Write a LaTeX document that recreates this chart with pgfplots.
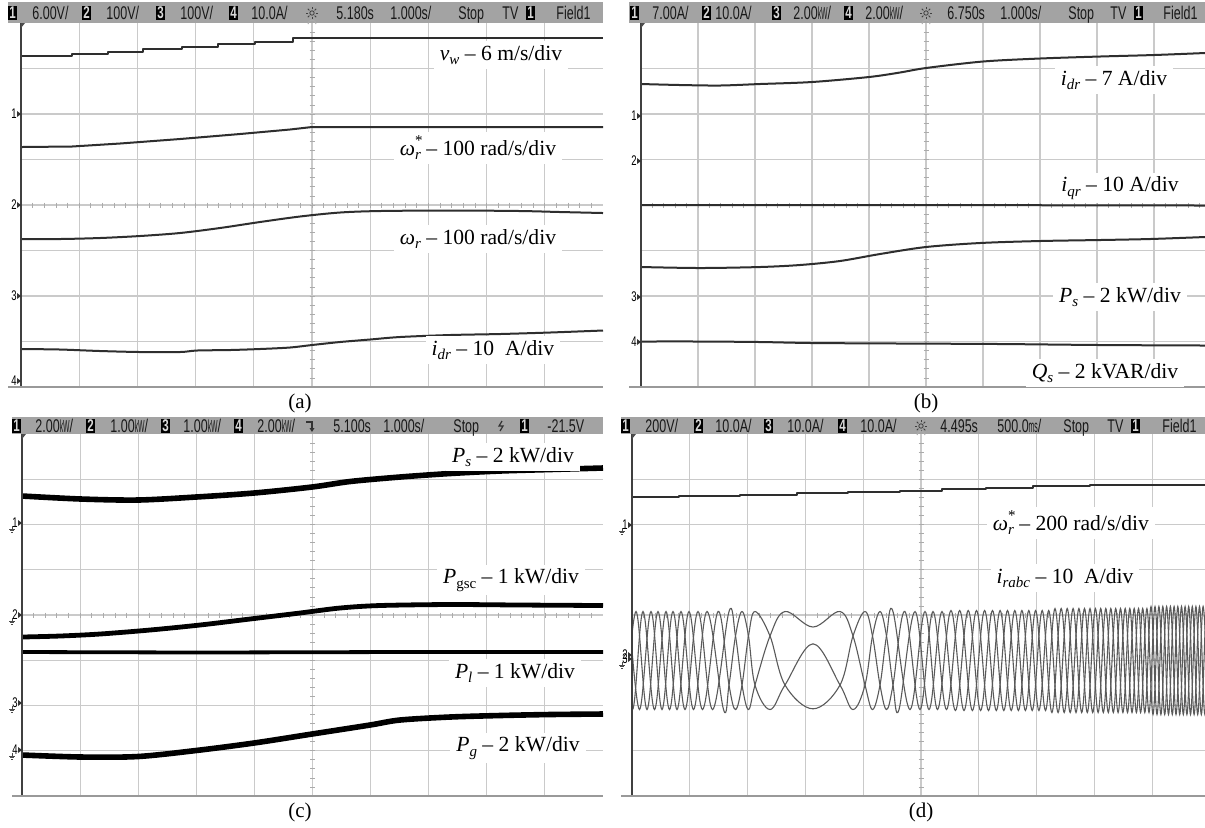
\documentclass[border=0pt]{standalone}
\usepackage{fontspec}
\setmainfont{Liberation Serif}
\newfontfamily\oscfont[FakeStretch=0.68]{Liberation Sans}
\usepackage{pgfplots}
\pgfplotsset{compat=1.18}

\definecolor{hdr}{HTML}{A3A3A3}
\definecolor{gridc}{HTML}{CACACA}
\definecolor{tickc}{HTML}{ABABAB}
\definecolor{trc}{HTML}{2E2E2E}
\definecolor{phc}{HTML}{5A5A5A}

\newcommand\hfont{\oscfont\fontsize{9.2}{9.2}\selectfont}
\newcommand\lab{\fontsize{10.8}{12}\selectfont}
\newcommand\sub[1]{\raisebox{-0.45ex}{\fontsize{7.5}{8}\selectfont\itshape #1}}
\newcommand\supsub[2]{\makebox[0pt][l]{\raisebox{0.95ex}{\fontsize{7.5}{8}\selectfont #1}}\raisebox{-0.45ex}{\fontsize{7.5}{8}\selectfont\itshape #2}}
\newcommand\kw{\scalebox{0.55}[0.95]{kW}}
\newcommand\ms{\scalebox{0.55}[0.95]{ms}}

% header pieces (pixel coordinates)
\newcommand\chb[3]{\fill[black] (#1,#2-7) rectangle ++(9,14);
  \node[text=black!15, font=\oscfont\fontsize{8.5}{8.5}\selectfont\bfseries, inner sep=0] at (#1+4.5,#2) {#3};}
\newcommand\htx[3]{\node[anchor=base west, inner sep=0, text=black!90, font=\hfont] at (#1,#2+6.3) {#3};}
\newcommand\sun[2]{\draw[black!75, line width=0.4pt] (#1,#2) circle (2.2);
  \foreach \a in {0,45,...,315} \draw[black!75, line width=0.4pt] (#1,#2) ++(\a:3.6) -- ++(\a:2.4);}
\newcommand\chm[3]{\node[anchor=east, inner sep=0, font=\oscfont\fontsize{7}{7}\selectfont] at (#1-4,#2) {#3};
  \fill[black!80] (#1-4,#2-3) -- (#1,#2) -- (#1-4,#2+3) -- cycle;}
\newcommand\gnd[2]{\draw[black!70, line width=0.35pt] (#1,#2) -- (#1,#2+3) (#1-3,#2+3) -- (#1+3,#2+3) (#1-2,#2+4.5) -- (#1+2,#2+4.5) (#1-1,#2+6) -- (#1+1,#2+6);}

% centre-line subdivision ticks: xc, y0, dy, yc, x0, dx
\newcommand\ctick[6]{%
  \pgfplotsinvokeforeach{1,...,39}{\draw[tickc, line width=0.4pt] ({#1-2.5},{#2+#3*##1}) -- ({#1+2.5},{#2+#3*##1});}
  \pgfplotsinvokeforeach{1,...,49}{\draw[tickc, line width=0.4pt] ({#5+#6*##1},{#4-2.5}) -- ({#5+#6*##1},{#4+2.5});}}

\tikzset{lbl/.style={fill=white, inner xsep=3pt, inner ysep=2pt, font=\lab}}
\pgfplotsset{
  osc/.style={
    scale only axis, y dir=reverse, anchor=north west,
    axis line style={draw=none}, major tick length=0pt,
    xticklabels={}, yticklabels={},
    grid=major, major grid style={gridc, line width=0.55pt},
    clip mode=individual,
  },
  tr/.style={trc, line width=1pt, line join=round},
  thick trace/.style={black, line width=2.8pt, line join=round},
  ph/.style={phc, line width=0.55pt, smooth, tension=0.6},
}

\begin{document}
\begin{tikzpicture}
\path[use as bounding box, fill=white] (0,0) rectangle (602.5pt,-413.5pt);

% ---------------- (a) ----------------
\begin{axis}[osc, at={(10.5pt,-11.5pt)}, width=291pt, height=182pt,
  xmin=21, xmax=603, ymin=23, ymax=387,
  xtick={79.2,137.4,195.6,253.8,312,370.2,428.4,486.6,544.8},
  ytick={68.5,114,159.5,205,250.5,296,341.5}]
\ctick{312}{23}{9.1}{205}{21}{11.64}
\addplot[tr, const plot] coordinates {(21,56)(72,54)(108,51.7)(143,49.3)(182,46.7)(218,44.3)(255,41.7)(293,37.5)(603,37.5)};
\addplot[tr] coordinates {(21,147)(72,146.5)(120,143.5)(180,139)(240,134)(290,129.5)(312,127)(603,127)};
\addplot[tr, smooth] coordinates {(21,239)(60,239)(100,238)(140,236)(180,233)(220,228)(260,222)(300,216.5)(340,212.5)(380,211)(450,210.5)(520,211)(560,212)(603,213)};
\addplot[tr, smooth] coordinates {(21,349)(60,349.5)(100,351)(140,352)(180,352)(197,350.5)(230,350)(260,349)(290,347.5)(312,345)(340,342)(370,339.5)(400,337)(450,335)(500,334)(550,332.5)(603,330.5)};
\draw[black!75, line width=0.8pt] (21,23) -- (21,387);
\draw[gray!80, line width=0.6pt] (8,387) -- (603,387);
\node[lbl] at (501,55) {\textit{v}\sub{w} – 6 m/s/div};
\node[lbl] at (478,148) {\textit{ω}\supsub{*}{r} – 100 rad/s/div};
\node[lbl] at (478,239) {\textit{ω}\sub{r} – 100 rad/s/div};
\node[lbl] at (493,350) {\textit{i}\sub{dr} – 10~ A/div};
\end{axis}

% ---------------- (b) ----------------
\begin{axis}[osc, at={(320.5pt,-11.5pt)}, width=282pt, height=182pt,
  xmin=641, xmax=1205, ymin=23, ymax=387,
  xtick={698,755,812,869,926,983,1040,1097,1154},
  ytick={68.5,114,159.5,205,250.5,296,341.5}]
\ctick{926}{23}{9.1}{205}{641}{11.4}
\addplot[tr, smooth] coordinates {(641,84)(680,85)(720,85.5)(760,84)(812,82)(869,77)(900,72.5)(926,68)(983,61.5)(1040,58.5)(1100,56.5)(1154,55)(1205,53)};
\addplot[tr] coordinates {(641,205)(900,205)(1205,205.5)};
\addplot[tr, smooth] coordinates {(641,267)(700,268)(760,267)(800,265)(840,261)(880,254)(926,247)(980,243)(1040,241)(1100,240)(1150,239)(1205,237)};
\addplot[tr, smooth] coordinates {(641,341.5)(700,341.5)(760,342)(812,343)(900,343.5)(1000,344)(1100,345)(1205,345.5)};
\draw[black!75, line width=0.8pt] (641,23) -- (641,387);
\draw[gray!80, line width=0.6pt] (629,387) -- (1205,387);
\node[lbl] at (1114,80) {\textit{i}\sub{dr} – 7 A/div};
\node[lbl] at (1120,188) {\textit{i}\sub{qr} – 10 A/div};
\node[lbl] at (1120,297) {\textit{P}\sub{s} – 2 kW/div};
\node[lbl] at (1105,373) {\textit{Q}\sub{s} – 2 kVAR/div};
\end{axis}

% ---------------- (c) ----------------
\begin{axis}[osc, at={(11pt,-217pt)}, width=290.5pt, height=181pt,
  xmin=22, xmax=603, ymin=434, ymax=796,
  xtick={80.1,138.2,196.3,254.4,312.5,370.6,428.7,486.8,544.9},
  ytick={479.25,524.5,569.75,615,660.25,705.5,750.75}]
\ctick{312.5}{434}{9.05}{615}{22}{11.62}
\addplot[thick trace, smooth] coordinates {(22,496)(81,499)(138,500)(196,497)(254,493)(312,487)(350,481.5)(400,477)(450,473.5)(500,471)(550,469.5)(603,468)};
\addplot[thick trace, smooth, line width=2.4pt] coordinates {(22,637)(60,636)(100,634)(150,630)(200,625)(250,619)(300,613)(340,608)(380,605.5)(450,604.5)(520,605)(603,605.5)};
\addplot[thick trace, line width=1.9pt] coordinates {(22,652)(200,652.5)(400,652)(603,652)};
\addplot[thick trace, smooth] coordinates {(22,755)(81,757)(138,756.5)(196,750.5)(254,743)(312,734)(370,725)(400,720)(450,717)(500,715.5)(550,714.5)(603,714)};
\draw[black!75, line width=0.8pt] (22,434) -- (22,796);
\draw[gray!80, line width=0.6pt] (12,796) -- (603,796);
\node[lbl] at (513,457) {\textit{P}\sub{s} – 2 kW/div};
\node[lbl] at (511,580) {\textit{P}\raisebox{-0.45ex}{\fontsize{7.5}{8}\selectfont gsc} – 1 kW/div};
\node[lbl] at (515,673) {\textit{P}\sub{l} – 1 kW/div};
\node[lbl] at (518,748) {\textit{P}\sub{g} – 2 kW/div};
\end{axis}

% ---------------- (d) ----------------
\begin{axis}[osc, at={(316pt,-217pt)}, width=286.5pt, height=181pt,
  xmin=632, xmax=1205, ymin=434, ymax=796,
  xtick={689.8,747.6,805.4,863.2,921,978.8,1036.6,1094.4,1152.2},
  ytick={479.25,524.5,569.75,615,660.25,705.5,750.75}]
\ctick{921}{434}{9.05}{615}{632}{11.56}
\addplot[tr, const plot] coordinates {(632,497.3)(679,496)(740,494.7)(797,493.3)(848,492)(900,490.5)(942,489)(986,487.8)(1033,486.3)(1090,485)(1205,485)};
% phase 1
\addplot[ph] coordinates {(629,611.5)(639.5,709.5)(651,611.5)(662,709.5)(673,611.5)(685,709.5)(698,611.5)(712.5,709.5)(729,611.5)(735.5,636)(742,685)(748.5,709.5)(755,685)(770,636)(785,611.5)(813,627)(840,611.5)(853,636)(865,685)(872.5,709.5)(880,685)(886.5,636)(893,611.5)(910,709.5)(925,611.5)(937.5,709.5)(951,610.5)(964,710.5)(976.5,610.5)(988.5,710.5)(1000.1,610.5)(1011.2,710.5)(1021.9,610.5)(1032.2,710.5)(1042.2,610.5)(1051.9,712.5)(1061.2,608.5)(1070.2,712.5)(1078.9,608.5)(1087.3,712.5)(1095.4,608.5)(1103.3,712.5)(1110.8,608.5)(1118.1,712.5)(1125.2,608.5)(1132.0,712.5)(1138.5,608.5)(1144.8,712.5)(1151.0,606.5)(1157.0,714.5)(1162.8,606.5)(1168.5,714.5)(1174.1,606.5)(1179.7,714.5)(1185.1,606.5)(1190.5,714.5)(1195.9,606.5)(1201.3,714.5)(1206.7,606.5)(1212.1,714.5)};
% phase 2
\addplot[ph] coordinates {(625.5,709.5)(636,611.5)(647,709.5)(658,611.5)(669.5,709.5)(681,611.5)(693.5,709.5)(707,611.5)(723.5,709.5)(729,685)(735.5,636)(742,611.5)(748.5,636)(755,685)(770,709.5)(785,685)(813,643.8)(840,685)(853,709.5)(865,685)(872.5,636)(880,611.5)(886.5,636)(893,685)(899,709.5)(915,611.5)(929,709.5)(942,611.5)(955.4,710.5)(968.2,610.5)(980.6,710.5)(992.5,610.5)(1003.8,710.5)(1014.8,610.5)(1025.4,710.5)(1035.6,610.5)(1045.5,710.5)(1055.0,608.5)(1064.2,712.5)(1073.1,608.5)(1081.7,712.5)(1090.0,608.5)(1098.1,712.5)(1105.8,608.5)(1113.3,712.5)(1120.5,608.5)(1127.5,712.5)(1134.2,608.5)(1140.6,712.5)(1146.9,608.5)(1153.0,714.5)(1158.9,606.5)(1164.7,714.5)(1170.4,606.5)(1176.0,714.5)(1181.5,606.5)(1186.9,714.5)(1192.3,606.5)(1197.7,714.5)(1203.1,606.5)(1208.5,714.5)};
% phase 3
\addplot[ph] coordinates {(622,611.5)(632.5,709.5)(643,611.5)(654.5,709.5)(666,611.5)(677,709.5)(689,611.5)(702.5,709.5)(718,611.5)(729,685)(735.5,709.5)(742,685)(748.5,636)(755,611.5)(770,636)(785,685)(813,708.8)(840,685)(853,636)(865,611.5)(872.5,636)(880,685)(886.5,709.5)(893,685)(905,611.5)(920,709.5)(933,611.5)(946.5,709.5)(959.7,610.5)(972.4,710.5)(984.6,610.5)(996.3,710.5)(1007.5,610.5)(1018.4,710.5)(1028.8,610.5)(1038.9,710.5)(1048.7,610.5)(1058.1,712.5)(1067.2,608.5)(1076.0,712.5)(1084.5,608.5)(1092.7,712.5)(1100.7,608.5)(1108.3,712.5)(1115.7,608.5)(1122.9,712.5)(1129.8,608.5)(1136.4,712.5)(1142.7,608.5)(1149.0,712.5)(1155.0,606.5)(1160.9,714.5)(1166.6,606.5)(1172.3,714.5)(1177.8,606.5)(1183.3,714.5)(1188.7,606.5)(1194.1,714.5)(1199.5,606.5)(1204.9,714.5)(1210.3,606.5)};
\draw[black!75, line width=0.8pt] (632,434) -- (632,796);
\draw[gray!80, line width=0.6pt] (621,796) -- (1205,796);
\node[lbl] at (1071,523) {\textit{ω}\supsub{*}{r} – 200 rad/s/div};
\node[lbl] at (1065,578) {\textit{i}\sub{rabc} – 10~ A/div};
\end{axis}

% ---------------- headers, markers, captions ----------------
\begin{scope}[x=0.5pt,y=-0.5pt]
% (a)
\fill[hdr] (8,2) rectangle (603,23);
\chb{8}{13}{1}\htx{32}{13}{6.00V/}\chb{82}{13}{2}\htx{106}{13}{100V/}
\chb{156}{13}{3}\htx{180}{13}{100V/}\chb{229}{13}{4}\htx{251}{13}{10.0A/}
\sun{312}{13}\htx{336}{13}{5.180s}\htx{390}{13}{1.000s/}\htx{458}{13}{Stop}
\htx{502}{13}{TV}\chb{526}{13}{1}\htx{556}{13}{Field1}
\chm{21}{114}{1}\chm{21}{205}{2}\chm{21}{296}{3}\chm{21}{381}{4}
\fill[black!70] (21,23) -- (25,23) -- (21,28) -- cycle;
\draw[tickc, line width=0.5pt] (308,24) arc (180:360:4);
% (b)
\fill[hdr] (629,2) rectangle (1205,23);
\chb{630}{13}{1}\htx{652}{13}{7.00A/}\chb{702}{13}{2}\htx{715}{13}{10.0A/}
\chb{772}{13}{3}\htx{793}{13}{2.00\kw/}\chb{844}{13}{4}\htx{865}{13}{2.00\kw/}
\sun{926}{13}\htx{947}{13}{6.750s}\htx{1000}{13}{1.000s/}\htx{1068}{13}{Stop}
\htx{1110}{13}{TV}\chb{1134}{13}{1}\htx{1163}{13}{Field1}
\chm{641}{116}{1}\chm{641}{161}{2}\chm{641}{297}{3}\chm{641}{342}{4}
\fill[black!70] (641,23) -- (645,23) -- (641,28) -- cycle;
\draw[tickc, line width=0.5pt] (922,24) arc (180:360:4);
% (c)
\fill[hdr] (12,417) rectangle (603,434);
\chb{12}{426}{1}\htx{35}{426}{2.00\kw/}\chb{86}{426}{2}\htx{110}{426}{1.00\kw/}
\chb{161}{426}{3}\htx{183}{426}{1.00\kw/}\chb{234}{426}{4}\htx{257}{426}{2.00\kw/}
\draw[black!80, line width=0.6pt] (306,422) -- (312,422) -- (312,431);
\fill[black!80] (309.5,428) -- (314.5,428) -- (312,432) -- cycle;
\htx{333}{426}{5.100s}\htx{383}{426}{1.000s/}\htx{453}{426}{Stop}
\draw[black!80, line width=0.6pt] (502,421) -- (499,426) -- (503,426) -- (500,431);
\chb{520}{426}{1}\htx{547}{426}{-21.5V}
\chm{22}{523}{1}\gnd{12}{526}\chm{22}{615}{2}\gnd{12}{618}
\chm{22}{703}{3}\gnd{12}{706}\chm{22}{750}{4}\gnd{12}{753}
\fill[black!70] (22,434) -- (26,434) -- (22,439) -- cycle;
% (d)
\fill[hdr] (621,417) rectangle (1205,434);
\chb{621}{426}{1}\htx{645}{426}{200V/}\chb{694}{426}{2}\htx{715}{426}{10.0A/}
\chb{764}{426}{3}\htx{787}{426}{10.0A/}\chb{838}{426}{4}\htx{860}{426}{10.0A/}
\sun{921}{426}\htx{940}{426}{4.495s}\htx{997}{426}{500.0\ms/}\htx{1063}{426}{Stop}
\htx{1107}{426}{TV}\chb{1131}{426}{1}\htx{1162}{426}{Field1}
\chm{632}{525}{1}\gnd{622}{528}\chm{632}{655}{2}\chm{632}{659}{3}\gnd{622}{662}
\fill[black!70] (632,434) -- (636,434) -- (632,439) -- cycle;
\draw[tickc, line width=0.5pt] (917,435) arc (180:360:4);
% captions
\node[font=\fontsize{10.5}{12}\selectfont] at (300,403) {(a)};
\node[font=\fontsize{10.5}{12}\selectfont] at (926,403) {(b)};
\node[font=\fontsize{10.5}{12}\selectfont] at (300,812) {(c)};
\node[font=\fontsize{10.5}{12}\selectfont] at (921,812) {(d)};
\end{scope}
\end{tikzpicture}
\end{document}
